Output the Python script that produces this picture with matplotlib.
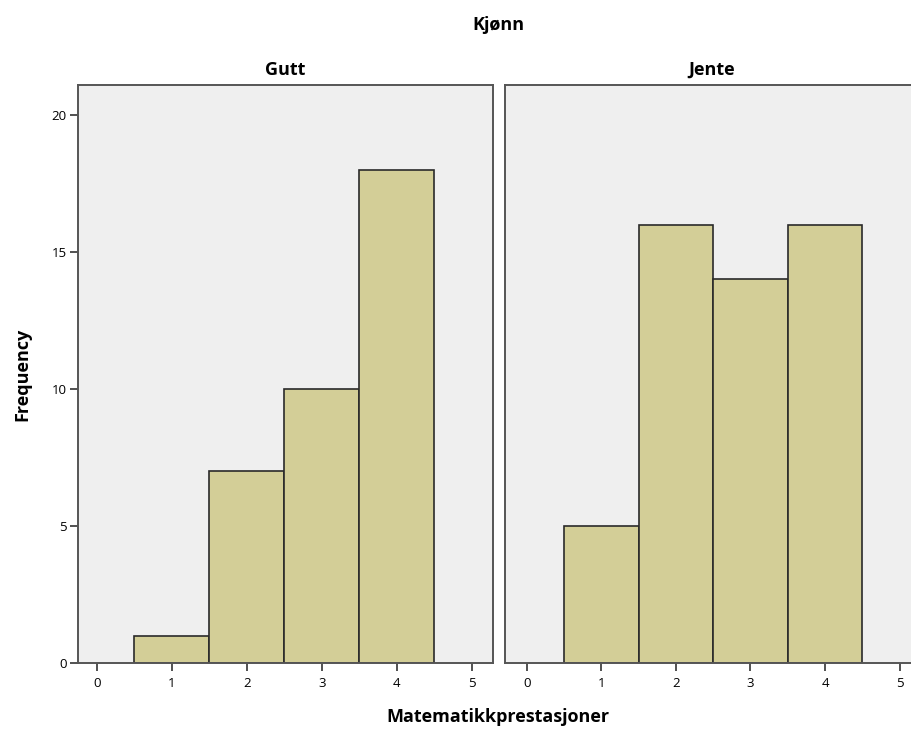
import matplotlib
matplotlib.use("Agg")
from matplotlib import pyplot as plt

# scores and counts per panel
scores = [1, 2, 3, 4]
gutt_counts = [1, 7, 10, 18]
jente_counts = [5, 16, 14, 16]
panels = ["Gutt", "Jente"]
xticks = [0, 1, 2, 3, 4, 5]
yticks = [0, 5, 10, 15, 20]

plt.rcParams['font.family'] = ['Open Sans', 'DejaVu Sans']

W, H = 912, 729
fig = plt.figure(figsize=(W / 100, H / 100), dpi=100)

bar_col = '#d3ce97'
edge_col = '#2a2a2a'
bg_col = '#efefef'
spine_col = '#555555'

# axes rectangles in pixels: left, top, width, height
rects = [(78, 85, 415, 578), (505, 85, 415, 578)]
xmins = [-0.25, -0.29]
scale = [75.0, 74.6]

for i, (name, counts) in enumerate(zip(panels, [gutt_counts, jente_counts])):
    l, t, w, h = rects[i]
    ax = fig.add_axes([l / W, 1 - (t + h) / H, w / W, h / H])
    ax.set_facecolor(bg_col)
    ax.bar(scores, counts, width=1.0, color=bar_col, edgecolor=edge_col, linewidth=1.2, zorder=2)
    ax.set_xlim(xmins[i], xmins[i] + w / scale[i])
    ax.set_ylim(0, 578 / 27.4)
    ax.set_xticks(xticks)
    ax.tick_params(axis='x', direction='out', length=6, width=1.2, color='#333333', labelsize=9.5, pad=4)
    for s in ax.spines.values():
        s.set_color(spine_col)
        s.set_linewidth(1.4)
    if i == 0:
        ax.set_yticks(yticks)
        ax.tick_params(axis='y', direction='out', length=6, width=1.2, color='#333333', labelsize=9.5, pad=2)
    else:
        ax.set_yticks([])
    fig.text((l + w / 2 if i == 0 else 712) / W, 1 - 70 / H, name, ha='center', va='center',
             fontsize=13, fontweight='bold')

fig.text(498 / W, 1 - 25 / H, 'Kjønn', ha='center', va='center', fontsize=13, fontweight='bold')
fig.text(498 / W, 1 - 717 / H, 'Matematikkprestasjoner', ha='center', va='center',
         fontsize=13, fontweight='bold')
fig.text(22 / W, 1 - 374 / H, 'Frequency', ha='center', va='center', rotation=90,
         fontsize=13, fontweight='bold')

fig.savefig('out.png', dpi=100)
